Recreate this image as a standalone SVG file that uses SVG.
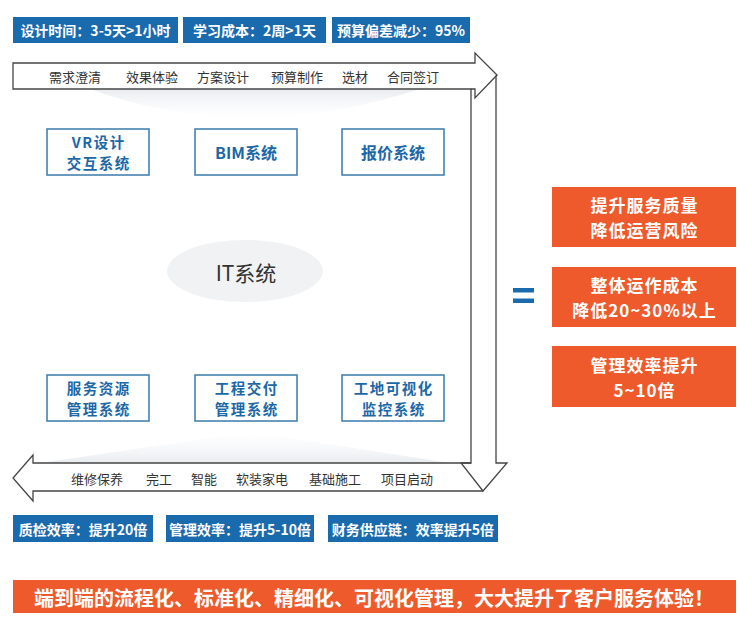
<svg xmlns="http://www.w3.org/2000/svg" width="752" height="637" viewBox="0 0 752 637">
<defs>
<style>
text{font-family:"Noto Sans CJK SC","Noto Sans",sans-serif;text-anchor:middle;dominant-baseline:central}
.blue{fill:#1a6aae}
.bt{fill:#fff;font-size:14px;font-weight:bold}
.step{fill:#333;font-size:13px}
.node rect{fill:#fff;stroke:#3b7aab;stroke-width:1.5}
.nt{fill:#1c68a6;font-size:16px;font-weight:bold}
.nt2{fill:#1c68a6;font-size:14.5px;font-weight:bold;letter-spacing:1.5px}
.or{fill:#ee5a2b}
.ot{fill:#fff;font-size:17px;font-weight:bold;letter-spacing:1px}
.arrow{fill:#fff;stroke:#444;stroke-width:1.3;stroke-linejoin:miter}
.inner{fill:none;stroke:#444;stroke-width:1.3}
</style>
<linearGradient id="shTop" x1="0" y1="0" x2="0" y2="1">
<stop offset="0" stop-color="#e6eaee" stop-opacity="0.9"/>
<stop offset="1" stop-color="#f4f6f8" stop-opacity="0"/>
</linearGradient>
<linearGradient id="shBot" x1="0" y1="1" x2="0" y2="0">
<stop offset="0" stop-color="#e6eaee" stop-opacity="0.9"/>
<stop offset="1" stop-color="#f4f6f8" stop-opacity="0"/>
</linearGradient>
</defs>
<rect width="752" height="637" fill="#fff"/>

<!-- soft shadows -->
<path d="M90,89 H420 Q330,118 250,118 Q170,118 90,89 Z" fill="url(#shTop)"/>
<path d="M40,463 L250,432 L450,463 Z" fill="url(#shBot)"/>

<!-- top metrics -->
<g id="metric-top-1"><rect class="blue" x="13" y="17" width="165" height="26"/><text class="bt" x="95.5" y="30">设计时间：3-5天&gt;1小时</text></g>
<g id="metric-top-2"><rect class="blue" x="183" y="17" width="143" height="26"/><text class="bt" x="254.5" y="30">学习成本：2周&gt;1天</text></g>
<g id="metric-top-3"><rect class="blue" x="332" y="17" width="138" height="26"/><text class="bt" x="401" y="30">预算偏差减少：95%</text></g>

<!-- process arrow -->
<g id="connectors">
<path class="arrow" d="M13,63 H475 V53 L497,75 L496,76 V463 H507 L483,491 H33 V501 L13,478 L33,455 V463 H471 V89 H13 Z"/>
<path class="inner" d="M471,89 H475 V98 L497,75"/>
<path class="inner" d="M471,463 H461 L483,491"/>
</g>

<g id="steps-top">
<text class="step" x="75" y="76">需求澄清</text>
<text class="step" x="152" y="76">效果体验</text>
<text class="step" x="223" y="76">方案设计</text>
<text class="step" x="297" y="76">预算制作</text>
<text class="step" x="355" y="76">选材</text>
<text class="step" x="413" y="76">合同签订</text>
</g>
<g id="steps-bottom">
<text class="step" x="97" y="478">维修保养</text>
<text class="step" x="159" y="478">完工</text>
<text class="step" x="204" y="478">智能</text>
<text class="step" x="262" y="478">软装家电</text>
<text class="step" x="335" y="478">基础施工</text>
<text class="step" x="407" y="478">项目启动</text>
</g>

<!-- system nodes -->
<g id="node-vr" class="node"><rect x="47" y="129" width="102" height="46"/><text class="nt2" x="98.75" y="141.5">VR设计</text><text class="nt2" x="98.75" y="162.5">交互系统</text></g>
<g id="node-bim" class="node"><rect x="195" y="129" width="102" height="46"/><text class="nt" x="246" y="152">BIM系统</text></g>
<g id="node-quote" class="node"><rect x="342" y="129" width="102" height="46"/><text class="nt" x="393" y="152">报价系统</text></g>

<g id="node-it"><ellipse cx="245" cy="271" rx="78" ry="31" fill="#f0f2f4"/><text x="246" y="272" font-size="21" fill="#333">IT系统</text></g>

<g id="node-service" class="node"><rect x="47" y="375" width="102" height="46"/><text class="nt2" x="98.75" y="387.5">服务资源</text><text class="nt2" x="98.75" y="408.5">管理系统</text></g>
<g id="node-delivery" class="node"><rect x="195" y="375" width="102" height="46"/><text class="nt2" x="246.75" y="387.5">工程交付</text><text class="nt2" x="246.75" y="408.5">管理系统</text></g>
<g id="node-site" class="node"><rect x="342" y="375" width="102" height="46"/><text class="nt2" x="393.75" y="387.5">工地可视化</text><text class="nt2" x="393.75" y="408.5">监控系统</text></g>

<!-- bottom metrics -->
<g id="metric-bot-1"><rect class="blue" x="13" y="515" width="140" height="27"/><text class="bt" x="83" y="528.5">质检效率：提升20倍</text></g>
<g id="metric-bot-2"><rect class="blue" x="166" y="515" width="148" height="27"/><text class="bt" x="240" y="528.5">管理效率：提升5-10倍</text></g>
<g id="metric-bot-3"><rect class="blue" x="328" y="515" width="170" height="27"/><text class="bt" x="413" y="528.5">财务供应链：效率提升5倍</text></g>

<!-- equals -->
<g id="equals"><rect class="blue" x="513" y="288" width="21" height="4.5"/><rect class="blue" x="513" y="298.5" width="21" height="4.5"/></g>

<!-- results -->
<g id="result-1"><rect class="or" x="552" y="187" width="184" height="60"/><text class="ot" x="644.5" y="204.5">提升服务质量</text><text class="ot" x="644.5" y="229.5">降低运营风险</text></g>
<g id="result-2"><rect class="or" x="552" y="267" width="184" height="60"/><text class="ot" x="644.5" y="284.5">整体运作成本</text><text class="ot" x="644.5" y="309.5">降低20~30%以上</text></g>
<g id="result-3"><rect class="or" x="552" y="346" width="184" height="61"/><text class="ot" x="644.5" y="364">管理效率提升</text><text class="ot" x="644.5" y="389">5~10倍</text></g>

<!-- banner -->
<g id="banner"><rect class="or" x="13" y="580" width="723" height="33"/><text x="374" y="597" fill="#fff" font-size="20" font-weight="bold">端到端的流程化、标准化、精细化、可视化管理，大大提升了客户服务体验！</text></g>
</svg>
